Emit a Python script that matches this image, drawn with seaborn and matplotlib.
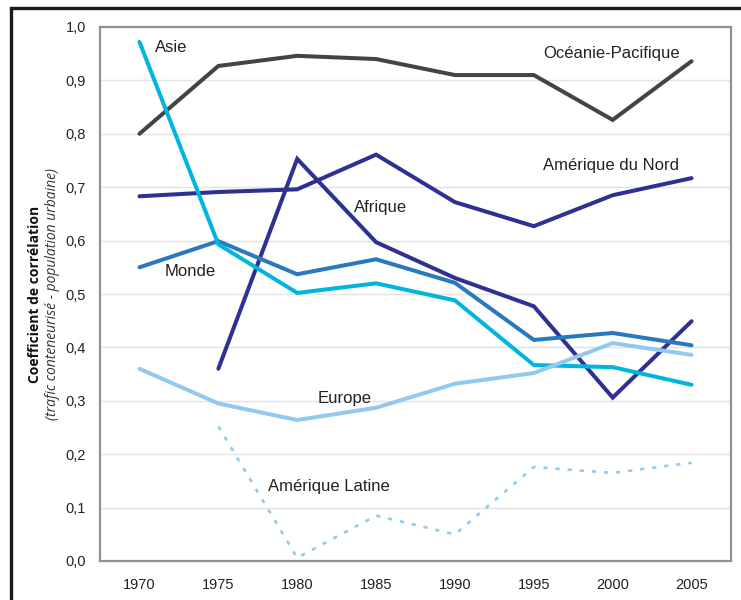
"""
Coefficient de correlation trafic conteneurise / population urbaine
par grande region, 1970-2005.
"""

import matplotlib.pyplot as plt
import numpy as np
import seaborn as sns
from matplotlib.patches import Rectangle

# Donnees
ANNEES = [1970, 1975, 1980, 1985, 1990, 1995, 2000, 2005]
OCEANIE = [0.800, 0.927, 0.946, 0.940, 0.910, 0.910, 0.826, 0.936]
AM_NORD = [0.683, 0.691, 0.696, 0.761, 0.672, 0.627, 0.685, 0.717]
AFRIQUE = [np.nan, 0.360, 0.753, 0.597, 0.530, 0.477, 0.306, 0.449]
MONDE = [0.550, 0.599, 0.537, 0.565, 0.521, 0.414, 0.427, 0.404]
ASIE = [0.972, 0.593, 0.502, 0.520, 0.488, 0.367, 0.363, 0.330]
EUROPE = [0.360, 0.295, 0.264, 0.287, 0.332, 0.352, 0.408, 0.386]
AM_LATINE = [np.nan, 0.252, 0.006, 0.085, 0.050, 0.176, 0.165, 0.184]

Y_TICKS = [0.0, 0.1, 0.2, 0.3, 0.4, 0.5, 0.6, 0.7, 0.8, 0.9, 1.0]

FONTE = ["Liberation Sans", "DejaVu Sans"]

# (valeurs, couleur, epaisseur, style)
SERIES = [
    (OCEANIE, "#3f4646", 2.9, "-"),
    (AM_NORD, "#2e3192", 2.9, "-"),
    (AFRIQUE, "#2e3192", 2.9, "-"),
    (MONDE, "#2a79bf", 2.9, "-"),
    (ASIE, "#00b6de", 2.9, "-"),
    (EUROPE, "#92c9ef", 2.9, "-"),
    (AM_LATINE, "#8ecbef", 1.9, (0, (1.6, 3.0))),
]

# (texte, x, y, alignement)
ETIQUETTES = [
    ("Asie", 1971.0, 0.962, "left"),
    ("Océanie-Pacifique", 1999.9, 0.950, "center"),
    ("Amérique du Nord", 1999.9, 0.740, "center"),
    ("Afrique", 1985.3, 0.662, "center"),
    ("Monde", 1973.2, 0.543, "center"),
    ("Europe", 1983.0, 0.305, "center"),
    ("Amérique Latine", 1982.0, 0.140, "center"),
]


def tracer():
    sns.set_theme(style="white")
    plt.rcParams["font.family"] = FONTE

    fig = plt.figure(figsize=(7.41, 6.0), dpi=100)
    ax = fig.add_axes([0.135, 0.065, 0.8515, 0.89])

    # cadre noir autour de la figure (coupe a droite et en bas)
    fig.add_artist(Rectangle((0.0155, -0.05), 1.1, 1.0367, transform=fig.transFigure,
                             fill=False, edgecolor="#1a1a1a", linewidth=2.4))

    for valeurs, couleur, lw, style in SERIES:
        sns.lineplot(x=ANNEES, y=valeurs, color=couleur, linewidth=lw, ax=ax)
        ax.lines[-1].set_linestyle(style)
        ax.lines[-1].set_solid_joinstyle("miter")

    for texte, x, y, ha in ETIQUETTES:
        ax.text(x, y, texte, ha=ha, va="center", fontsize=12, color="#222222")

    ax.set_xlim(1967.5, 2007.5)
    ax.set_ylim(0, 1.0)
    ax.set_xticks(ANNEES)
    ax.set_xticklabels([str(a) for a in ANNEES], fontsize=10.5, color="#222222")
    ax.set_xticks(np.arange(1967.5, 2008, 5), minor=True)
    ax.tick_params(axis="x", which="major", length=0, pad=12)
    ax.tick_params(axis="x", which="minor", length=5, color="#cccccc", width=1)

    ax.set_yticks(Y_TICKS)
    ax.set_yticklabels([f"{v:.1f}".replace(".", ",") for v in Y_TICKS],
                       fontsize=10.5, color="#222222")
    ax.tick_params(axis="y", length=4, color="#dddddd", pad=6)
    ax.yaxis.grid(True, color="#e3e3e3", linewidth=1)
    ax.set_axisbelow(True)

    for spine in ax.spines.values():
        spine.set_color("#8c9298")
        spine.set_linewidth(1.6)

    ax.set_xlabel("")
    ax.set_ylabel("")
    fig.text(0.047, 0.51, "Coefficient de corrélation", rotation=90,
             ha="center", va="center", fontsize=10, fontweight="bold",
             family=["Open Sans", "DejaVu Sans"], color="#111111")
    fig.text(0.071, 0.51, "(trafic conteneurisé - population urbaine)",
             rotation=90, ha="center", va="center", fontsize=10,
             style="italic", family=["Open Sans", "DejaVu Sans"],
             color="#333333")

    fig.savefig("out.png", dpi=100)
    plt.close(fig)


if __name__ == "__main__":
    tracer()
